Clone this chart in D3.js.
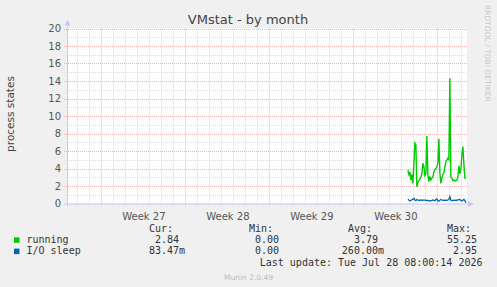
<!DOCTYPE html>
<html><head><meta charset="utf-8">
<script src="https://cdn.jsdelivr.net/npm/d3@7/dist/d3.min.js"></script>
<style>
html,body{margin:0;padding:0;background:#f0f0f0;}
svg{display:block;}
text{font-family:"DejaVu Sans",sans-serif;}
.mono{font-family:"DejaVu Sans Mono",monospace;font-size:10px;fill:#333;white-space:pre;}
</style></head>
<body>
<script>
// ---- data ----
const title = "VMstat - by month";
const yLabel = "process states";
const domainStart = "2026-06-26T03:15:00Z";
const domainEnd = "2026-07-29T11:15:00Z";
const weekStarts = ["2026-06-29","2026-07-06","2026-07-13","2026-07-20","2026-07-27"];
const weekLabels = ["Week 27","Week 28","Week 29","Week 30"];
const yTicks = [0,2,4,6,8,10,12,14,16,18,20];
const seriesStart = "2026-07-24T13:00:00Z";
const stepHours = 2;
const running = [3.8,3.3,3.6,2.7,3.3,2.3,4.5,6.9,6.7,1.9,2.4,2.6,2.8,3.0,3.4,4.6,4.2,3.2,3.4,7.7,
  3.3,2.5,3.1,2.7,2.9,3.0,3.6,3.9,4.0,4.2,4.6,7.4,3.5,2.3,2.9,3.3,3.5,4.2,4.8,5.0,
  5.2,5.0,14.3,3.0,2.9,2.6,2.7,2.6,2.6,2.7,3.0,4.3,3.4,4.0,5.5,6.5,4.5,2.9,2.84];
const ioSleep = [0.50,0.40,0.29,0.35,0.42,0.50,0.60,0.40,0.33,0.46,0.40,0.36,0.37,0.42,0.38,0.35,0.40,0.38,0.36,0.33,
  0.37,0.31,0.29,0.33,0.36,0.40,0.37,0.32,0.45,0.52,0.30,0.29,0.38,0.46,0.40,0.35,0.37,0.39,0.36,0.37,
  0.40,0.45,0.78,0.40,0.32,0.36,0.37,0.35,0.38,0.37,0.42,0.44,0.46,0.35,0.29,0.38,0.49,0.30,0.08];
const seriesNames = ["running","I/O sleep"];
const seriesColors = ["#00cc00","#0066b3"];
const colHeaders = ["Cur:","Min:","Avg:","Max:"];
const runningStats = ["2.84","0.00","3.79","55.25"];
const ioStats = ["83.47m","0.00","260.00m","2.95"];
const lastUpdate = "Last update: Tue Jul 28 08:00:14 2026";
const footer = "Munin 2.0.49";
const sideText = "RRDTOOL / TOBI OETIKER";

// ---- layout ----
const W = 497, H = 287;
const L = 67, R = 467, T = 28.5, B = 203.5;
const svg = d3.select("body").append("svg").attr("width", W).attr("height", H);
svg.append("rect").attr("width", W).attr("height", H).attr("fill", "#f0f0f0");

const x = d3.scaleUtc().domain([new Date(domainStart), new Date(domainEnd)]).range([L, R]);
const y = d3.scaleLinear().domain([0, 20]).range([B, T]);

svg.append("rect").attr("x", L).attr("y", T).attr("width", R - L).attr("height", B - T).attr("fill", "#fff");

// grid
const g = svg.append("g");
const minorY = d3.range(1, 20, 2);
g.selectAll(".hmin").data(minorY).join("line")
  .attr("x1", L - 2).attr("x2", R).attr("y1", d => Math.round(y(d)) + 0.5).attr("y2", d => Math.round(y(d)) + 0.5)
  .attr("stroke", "#dcdcdc").attr("stroke-dasharray", "1,1");
const days = d3.utcDay.range(new Date(domainStart), new Date(domainEnd));
const mondays = weekStarts.map(s => new Date(s + "T00:00:00Z"));
g.selectAll(".vmin").data(days.filter(d => d.getUTCDay() !== 1)).join("line")
  .attr("x1", d => Math.round(x(d)) + 0.5).attr("x2", d => Math.round(x(d)) + 0.5)
  .attr("y1", T).attr("y2", B + 2)
  .attr("stroke", "#dcdcdc").attr("stroke-dasharray", "1,1");
g.selectAll(".hmaj").data(yTicks.filter(d => d > 0)).join("line")
  .attr("x1", L - 3).attr("x2", R).attr("y1", d => Math.round(y(d)) + 0.5).attr("y2", d => Math.round(y(d)) + 0.5)
  .attr("stroke", "#f0b4b4").attr("stroke-dasharray", "1,1");
g.selectAll(".vmaj").data(mondays).join("line")
  .attr("x1", d => Math.round(x(d)) + 0.5).attr("x2", d => Math.round(x(d)) + 0.5)
  .attr("y1", T).attr("y2", B + 3)
  .attr("stroke", "#f0b4b4").attr("stroke-dasharray", "1,1");

// y axis labels
const yAxis = d3.axisLeft(y).tickValues(yTicks).tickSize(0).tickPadding(6);
const ya = svg.append("g").attr("transform", `translate(${L},0)`).call(yAxis);
ya.select(".domain").remove();
ya.selectAll("text").attr("font-family", "DejaVu Sans").attr("font-size", 10).attr("fill", "#555");

// x axis labels
const centers = mondays.slice(0, weekLabels.length).map(d => new Date(+d + 3.5 * 864e5));
const xAxis = d3.axisBottom(x).tickValues(centers).tickSize(0).tickPadding(9)
  .tickFormat((d, i) => weekLabels[i]);
const xa = svg.append("g").attr("transform", `translate(0,${B})`).call(xAxis);
xa.select(".domain").remove();
xa.selectAll("text").attr("font-family", "DejaVu Sans").attr("font-size", 10).attr("fill", "#555");

// series
const t0 = new Date(seriesStart);
const tAt = i => new Date(+t0 + i * stepHours * 3600e3);
const line = d3.line().x((d, i) => x(tAt(i))).y(d => y(d));
svg.append("path").datum(running).attr("d", line).attr("fill", "none")
  .attr("stroke", seriesColors[0]).attr("stroke-width", 1.4);
svg.append("path").datum(ioSleep).attr("d", line).attr("fill", "none")
  .attr("stroke", seriesColors[1]).attr("stroke-width", 1.3);

// axes lines with arrows
const axc = "#c8c8f0";
svg.append("line").attr("x1", L + 0.5).attr("x2", L + 0.5).attr("y1", B + 3).attr("y2", T - 5).attr("stroke", axc);
svg.append("line").attr("x1", L - 3).attr("x2", R + 3).attr("y1", B + 0.5).attr("y2", B + 0.5).attr("stroke", axc);
svg.append("path").attr("d", `M${L - 2.5},${T - 3} L${L + 3.5},${T - 3} L${L + 0.5},${T - 9} Z`).attr("fill", axc);
svg.append("path").attr("d", `M${R + 1},${B - 2.5} L${R + 1},${B + 3.5} L${R + 7},${B + 0.5} Z`).attr("fill", axc);

// title & labels
svg.append("text").attr("x", 248).attr("y", 24).attr("text-anchor", "middle")
  .attr("font-size", 13).attr("fill", "#444").text(title);
svg.append("text").attr("transform", "translate(14,114) rotate(-90)").attr("text-anchor", "middle")
  .attr("font-size", 10.5).attr("fill", "#444").text(yLabel);
svg.append("text").attr("transform", "translate(485,5) rotate(90)").attr("text-anchor", "start")
  .attr("font-size", 7.5).attr("fill", "#c8c8c8").text(sideText);

// legend
const colStart = [149, 249, 348, 447];
const colEnd = [185, 285, 384, 483];
const rowY = [231.5, 242.8, 254.1];
colHeaders.forEach((h, i) => svg.append("text").attr("class", "mono").attr("x", colStart[i]).attr("y", rowY[0]).text(h));
[runningStats, ioStats].forEach((stats, r) => {
  svg.append("rect").attr("x", 14).attr("y", rowY[r + 1] - 5.5).attr("width", 5.5).attr("height", 5.5)
    .attr("fill", seriesColors[r]);
  svg.append("text").attr("class", "mono").attr("x", 26.5).attr("y", rowY[r + 1]).text(seriesNames[r]);
  stats.forEach((v, i) => {
    const s = /[0-9]$/.test(v) ? v + " " : v;
    svg.append("text").attr("class", "mono").attr("x", colEnd[i]).attr("y", rowY[r + 1])
      .attr("text-anchor", "end").text(s);
  });
});
svg.append("text").attr("class", "mono").attr("x", 482.5).attr("y", 265.5).attr("text-anchor", "end").text(lastUpdate);
svg.append("text").attr("x", 248.5).attr("y", 279.5).attr("text-anchor", "middle")
  .attr("font-size", 7.5).attr("fill", "#bbb").text(footer);
</script>
</body></html>
